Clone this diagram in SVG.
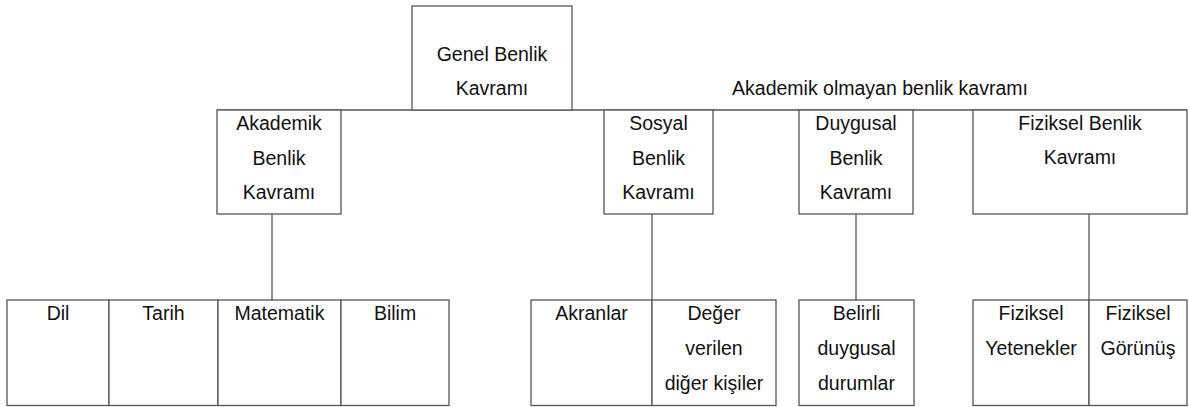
<svg xmlns="http://www.w3.org/2000/svg" width="1189" height="407" viewBox="0 0 1189 407">
<style>
.b{fill:#fff;stroke:#555;stroke-width:1.3}
.c{fill:none;stroke:#555;stroke-width:1.3}
text{font-family:"Liberation Sans",Arial,Helvetica,sans-serif;font-size:19.5px;fill:#111;text-anchor:middle}
</style>
<rect width="1189" height="407" fill="#fff"/>
<g id="connectors">
<line class="c" x1="217" y1="110" x2="1187" y2="110"/>
<line class="c" x1="272" y1="214" x2="272" y2="300"/>
<line class="c" x1="652" y1="214" x2="652" y2="300"/>
<line class="c" x1="856" y1="214" x2="856" y2="300"/>
<line class="c" x1="1089" y1="214" x2="1089" y2="300"/>
</g>
<g id="genel"><rect class="b" x="412" y="6" width="160" height="104"/><text x="492" y="61">Genel Benlik</text><text x="492" y="95">Kavramı</text></g>
<g id="akademik-olmayan-label"><text x="880" y="95">Akademik olmayan benlik kavramı</text></g>
<g id="akademik"><rect class="b" x="217" y="110" width="124" height="104"/><text x="279" y="130">Akademik</text><text x="279" y="164.5">Benlik</text><text x="279" y="199">Kavramı</text></g>
<g id="sosyal"><rect class="b" x="604" y="110" width="109" height="104"/><text x="658.5" y="130">Sosyal</text><text x="658.5" y="164.5">Benlik</text><text x="658.5" y="199">Kavramı</text></g>
<g id="duygusal"><rect class="b" x="799" y="110" width="114" height="104"/><text x="856" y="130">Duygusal</text><text x="856" y="164.5">Benlik</text><text x="856" y="199">Kavramı</text></g>
<g id="fiziksel"><rect class="b" x="973" y="110" width="214" height="104"/><text x="1080" y="129.5">Fiziksel Benlik</text><text x="1080" y="163.5">Kavramı</text></g>
<g id="dil"><rect class="b" x="7" y="300" width="102" height="105.5"/><text x="58" y="320">Dil</text></g>
<g id="tarih"><rect class="b" x="109" y="300" width="109" height="105.5"/><text x="163.5" y="320">Tarih</text></g>
<g id="matematik"><rect class="b" x="218" y="300" width="123" height="105.5"/><text x="279.5" y="320">Matematik</text></g>
<g id="bilim"><rect class="b" x="341" y="300" width="108" height="105.5"/><text x="395" y="320">Bilim</text></g>
<g id="akranlar"><rect class="b" x="531" y="300" width="121" height="105.5"/><text x="591.5" y="320">Akranlar</text></g>
<g id="deger"><rect class="b" x="652" y="300" width="124" height="105.5"/><text x="714" y="320">Değer</text><text x="714" y="355">verilen</text><text x="714" y="389.5">diğer kişiler</text></g>
<g id="belirli"><rect class="b" x="799" y="300" width="115" height="105.5"/><text x="856.5" y="320">Belirli</text><text x="856.5" y="355">duygusal</text><text x="856.5" y="389.5">durumlar</text></g>
<g id="yetenekler"><rect class="b" x="973" y="300" width="116" height="105.5"/><text x="1031" y="320">Fiziksel</text><text x="1031" y="355">Yetenekler</text></g>
<g id="gorunus"><rect class="b" x="1089" y="300" width="98" height="105.5"/><text x="1138" y="320">Fiziksel</text><text x="1138" y="355">Görünüş</text></g>
</svg>
